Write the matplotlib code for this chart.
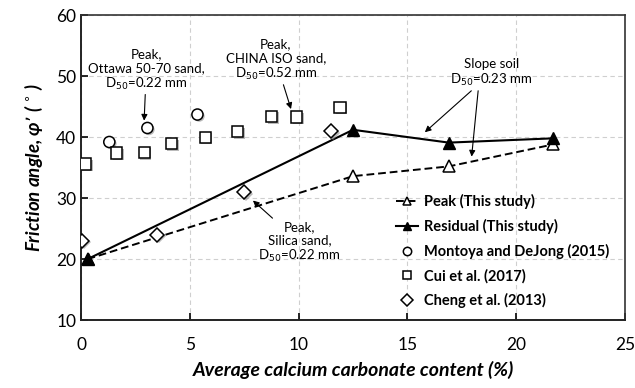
import matplotlib
matplotlib.use("Agg")
import matplotlib.pyplot as plt
import matplotlib.patheffects as pe

plt.rcParams['font.family'] = ['Lato', 'DejaVu Sans']

# data
peak_x = [0.3, 12.5, 16.9, 21.7]
peak_y = [20.0, 33.6, 35.2, 38.8]
resid_x = [0.3, 12.5, 16.9, 21.7]
resid_y = [20.0, 41.2, 39.1, 39.8]
montoya_x = [1.3, 3.05, 5.35]
montoya_y = [39.2, 41.5, 43.7]
cui_x = [0.2, 1.65, 2.9, 4.15, 5.7, 7.2, 8.75, 9.9, 11.9]
cui_y = [35.6, 37.4, 37.5, 38.9, 40.0, 40.9, 43.4, 43.3, 44.9]
cheng_x = [0.05, 3.5, 7.5, 11.5]
cheng_y = [23.0, 24.0, 31.0, 41.0]

shadow = [pe.SimplePatchShadow(offset=(1.2, -1.2), shadow_rgbFace='0.55', alpha=0.6), pe.Normal()]

fig = plt.figure(figsize=(6.35, 3.88), dpi=100)
ax = fig.add_axes([0.1276, 0.175, 0.8567, 0.786])

ax.grid(True, color='#cfcfcf', linestyle=(0, (4, 3)), linewidth=0.8)
ax.set_axisbelow(True)

l1, = ax.plot(peak_x, peak_y, color='black', linestyle=(0, (4, 2)), linewidth=1.4,
              marker='^', markersize=9, markerfacecolor='white', markeredgecolor='black',
              markeredgewidth=1.1, label='Peak (This study)', zorder=3)
l2, = ax.plot(resid_x, resid_y, color='black', linestyle='-', linewidth=1.5,
              marker='^', markersize=9, markerfacecolor='black', markeredgecolor='black',
              label='Residual (This study)', zorder=4)
l3, = ax.plot(montoya_x, montoya_y, linestyle='none', marker='o', markersize=8,
              markerfacecolor='white', markeredgecolor='black', markeredgewidth=1.1,
              label='Montoya and DeJong (2015)', zorder=5)
l4, = ax.plot(cui_x, cui_y, linestyle='none', marker='s', markersize=8,
              markerfacecolor='white', markeredgecolor='black', markeredgewidth=1.1,
              label='Cui et al. (2017)', zorder=5)
l5, = ax.plot(cheng_x, cheng_y, linestyle='none', marker='D', markersize=7,
              markerfacecolor='white', markeredgecolor='black', markeredgewidth=1.1,
              label='Cheng et al. (2013)', zorder=5)
for ln in (l3, l4, l5):
    ln.set_path_effects(shadow)

ax.set_xlim(0, 25)
ax.set_ylim(10, 60)
ax.set_xticks([0, 5, 10, 15, 20, 25])
ax.set_yticks([10, 20, 30, 40, 50, 60])
ax.tick_params(direction='in', length=5, width=1.2, labelsize=12.5, colors='black')
ax.tick_params(axis='x', pad=12)
for side in ('left', 'bottom'):
    ax.spines[side].set_linewidth(1.4)
    ax.spines[side].set_color('#222222')
for side in ('top', 'right'):
    ax.spines[side].set_linewidth(1.2)
    ax.spines[side].set_color('#333333')

ax.set_xlabel('Average calcium carbonate content (%)', fontsize=14, fontweight='bold',
              style='italic', labelpad=6)
ax.set_ylabel("Friction angle, φ’ ( $^{\\circ}$ )", fontsize=13.5, fontweight='bold',
              style='italic', labelpad=8)

arrow = dict(arrowstyle='-|>', color='black', linewidth=0.8, mutation_scale=9,
             shrinkA=0, shrinkB=0)
fs = 9.5
ax.annotate('Peak,\nOttawa 50-70 sand,\nD$_{50}$=0.22 mm', xy=(2.9, 42.7), xytext=(3.0, 51.0),
            ha='center', va='center', fontsize=fs, linespacing=1.15, arrowprops=arrow)
ax.annotate('Peak,\nCHINA ISO sand,\nD$_{50}$=0.52 mm', xy=(9.65, 44.6), xytext=(8.95, 52.6),
            ha='center', va='center', fontsize=fs, linespacing=1.15, arrowprops=arrow)
ax.annotate('Peak,\nSilica sand,\nD$_{50}$=0.22 mm', xy=(7.9, 29.6), xytext=(10.05, 22.7),
            ha='center', va='center', fontsize=fs, linespacing=1.15, arrowprops=arrow)
ax.annotate('Slope soil\nD$_{50}$=0.23 mm', xy=(15.8, 40.8), xytext=(18.85, 50.5),
            ha='center', va='center', fontsize=fs, linespacing=1.15, arrowprops=arrow)
ax.annotate('', xy=(17.95, 36.8), xytext=(18.25, 47.6), arrowprops=arrow)

leg = ax.legend(handles=[l1, l2, l3, l4, l5], loc='lower right', bbox_to_anchor=(0.995, -0.005),
                frameon=False, handlelength=1.5, handletextpad=0.4,
                labelspacing=0.68, prop={'weight': 'bold', 'size': 10.5})
for h in leg.legend_handles:
    h.set_path_effects([])
    h.set_markersize(6)

fig.savefig('out.png', dpi=100)
